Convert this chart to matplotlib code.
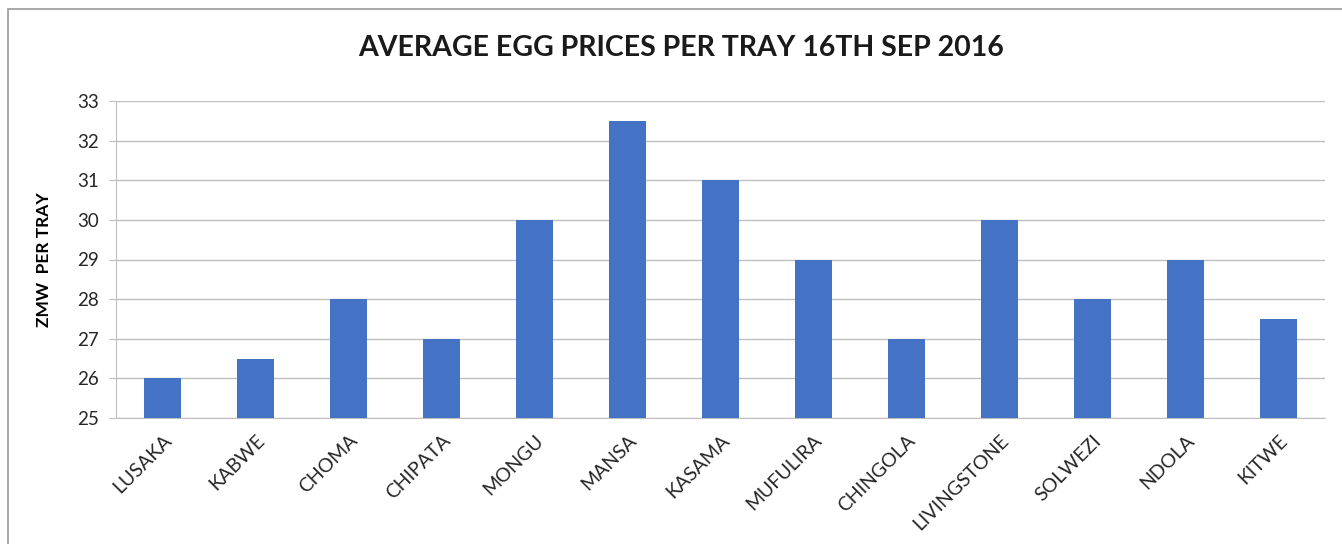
import matplotlib.pyplot as plt
from matplotlib.patches import Rectangle

cities = ["LUSAKA", "KABWE", "CHOMA", "CHIPATA", "MONGU", "MANSA", "KASAMA",
          "MUFULIRA", "CHINGOLA", "LIVINGSTONE", "SOLWEZI", "NDOLA", "KITWE"]
prices = [26, 26.5, 28, 27, 30, 32.5, 31, 29, 27, 30, 28, 29, 27.5]
yticks = [25, 26, 27, 28, 29, 30, 31, 32, 33]

plt.rcParams['font.family'] = ['Lato', 'DejaVu Sans']

fig = plt.figure(figsize=(13.42, 5.44), dpi=100)
ax = fig.add_axes([116/1342, 1-418/544, (1325-116)/1342, (418-101)/544])

# chart border (runs off the right and bottom of the capture)
fig.patches.append(Rectangle((8/1342, -0.05), 1.1, 1.05 - 9/544,
                             transform=fig.transFigure, fill=False,
                             edgecolor='#9a9a9a', linewidth=1.2))

x = list(range(len(cities)))
ax.bar(x, prices, width=0.4, color='#4472C4', zorder=3)
ax.set_xlim(-0.5, len(cities) - 0.5)
ax.set_ylim(25, 33)
ax.set_yticks(yticks)
ax.set_xticks(x)
ax.set_xticklabels(cities, rotation=45, ha='right', rotation_mode='anchor',
                   fontsize=14, color='#262626')
ax.tick_params(axis='y', labelsize=13.5, labelcolor='#262626', length=5,
               color='#bfbfbf', pad=7)
ax.tick_params(axis='x', length=0, pad=10)
ax.grid(axis='y', color='#bfbfbf', linewidth=1, zorder=0)

for s in ['top', 'right']:
    ax.spines[s].set_visible(False)
ax.spines['left'].set_color('#bfbfbf')
ax.spines['bottom'].set_color('#bfbfbf')

ax.set_ylabel("ZMW  PER TRAY", fontsize=12.5, fontweight='bold', labelpad=18)
fig.text(681/1342, 1-48/544, "AVERAGE EGG PRICES PER TRAY 16TH SEP 2016",
         ha='center', va='center', fontsize=20.5, fontweight='bold', color='#1a1a1a')

fig.savefig("out.png", dpi=100)
